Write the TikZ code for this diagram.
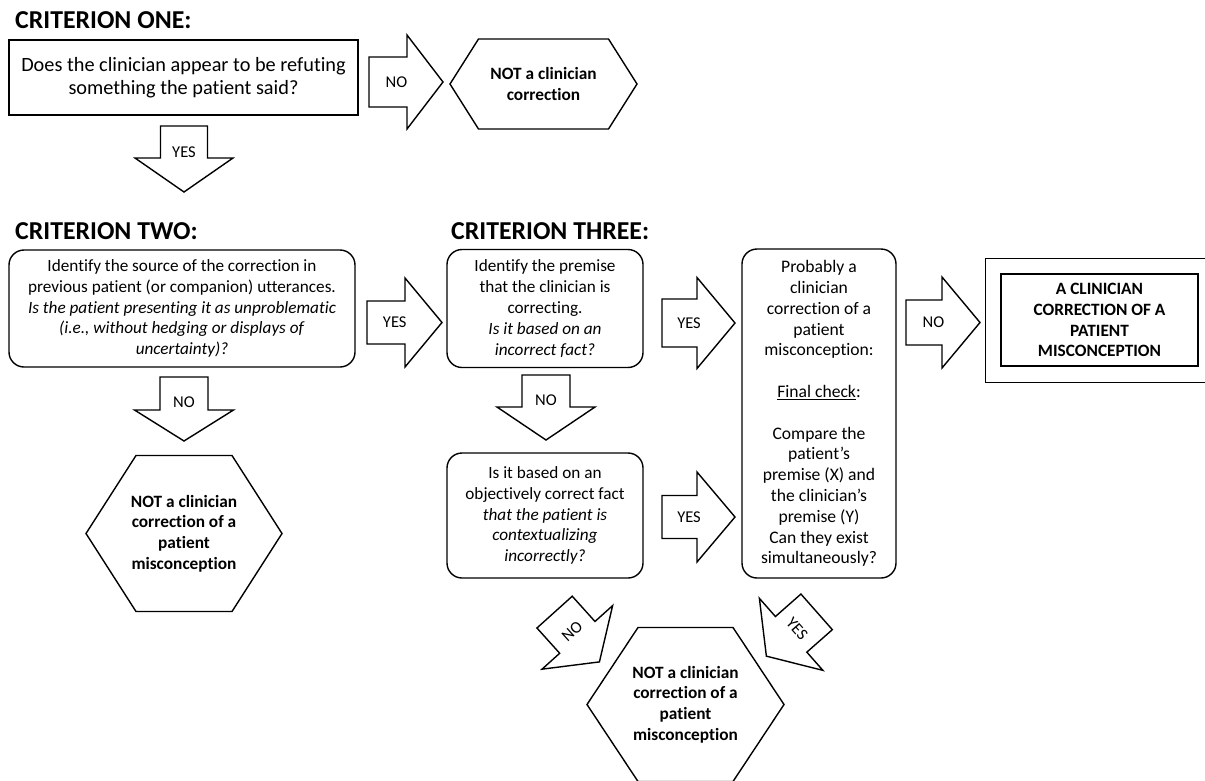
\documentclass[tikz,border=0pt]{standalone}
\usepackage{fontspec}
\setmainfont{Carlito}[Ligatures={NoCommon}]
\usetikzlibrary{calc}
\tikzset{
  lw/.style={line width=1.4pt},
  heading/.style={anchor=base west, inner sep=0pt, font=\fontsize{25.8}{30}\selectfont\bfseries},
  boxtext/.style={align=center, inner sep=0pt, font=\fontsize{17.2}{20.8}\selectfont},
  sqbox/.style={boxtext, draw, lw},
  rbox/.style={boxtext, draw, lw, rounded corners=15pt},
  endtext/.style={align=center, inner sep=0pt, font=\fontsize{17.3}{20.8}\selectfont\bfseries},
  arrowline/.style={draw=black, lw, fill=white, line join=miter},
  arrowlabel/.style={font=\fontsize{16.5}{19}\selectfont, inner sep=0pt, transform shape},
  pics/rarrow/.style n args={5}{code={
    \draw[arrowline] (-#1/2,-#2/2) -- (#1/2-#4,-#2/2) -- (#1/2-#4,-#3/2) -- (#1/2,0)
      -- (#1/2-#4,#3/2) -- (#1/2-#4,#2/2) -- (-#1/2,#2/2) -- cycle;
    \node[arrowlabel] at (-#1/2+0.37*#1,0) {#5};
  }},
  pics/darrow/.style n args={5}{code={
    \draw[arrowline] (-#2/2,-#1/2) -- (#2/2,-#1/2) -- (#2/2,#1/2-#4) -- (#3/2,#1/2-#4)
      -- (0,#1/2) -- (-#3/2,#1/2-#4) -- (-#2/2,#1/2-#4) -- cycle;
    \node[arrowlabel] at (0,-#1/2+0.39*#1) {#5};
  }},
  pics/hexa/.style n args={3}{code={
    \draw[lw, line join=miter] (-#1,0) -- (-#2,-#3) -- (#2,-#3) -- (#1,0) -- (#2,#3) -- (-#2,#3) -- cycle;
  }},
}
\begin{document}
\begin{tikzpicture}[x=1pt, y=-1pt]
\useasboundingbox (0,0) rectangle (1205,780);

% headings
\node[heading] (t1) at (15,28) {CRITERION ONE:};
\node[heading] (t2) at (15,239) {CRITERION TWO:};
\node[heading] (t3) at (451,239) {CRITERION THREE:};

% criterion one
\node[sqbox, minimum width=349pt, minimum height=75pt, font=\fontsize{20.3}{22.5}\selectfont] (q1) at (183.5,77.5)
  {Does the clinician appear to be refuting\\something the patient said?};
\node[endtext] (h1) at (543.5,84) {NOT a clinician\\correction};
\pic at (h1.center) {hexa={93.5}{65}{45}};
\pic at (406,82) {rarrow={74}{50}{94}{36}{NO}};
\pic at (184,159) {darrow={66}{47}{98}{34}{YES}};

% criterion two
\node[rbox, minimum width=346pt, minimum height=117pt] (q2) at (182,308.5)
  {Identify the source of the correction in\\previous patient (or companion) utterances.\\
   \textit{Is the patient presenting it as unproblematic}\\
   \textit{(i.e., without hedging or displays of}\\\textit{uncertainty)?}};
\node[endtext] (h2) at (184,533.5) {NOT a clinician\\correction of a\\patient\\misconception};
\pic at (h2.center) {hexa={98}{48}{78}};
\pic at (546,407.5) {darrow={65}{48}{98}{33}{NO}};
\pic at (184,409) {darrow={64}{48}{99}{31}{NO}};
\pic at (404.5,322.5) {rarrow={75}{43}{89}{37}{YES}};

% criterion three
\node[rbox, minimum width=196pt, minimum height=118pt] (q3a) at (545,308.5)
  {Identify the premise\\that the clinician is\\correcting.\\\textit{Is it based on an}\\\textit{incorrect fact?}};
\node[rbox, minimum width=196pt, minimum height=125pt] (q3b) at (545,515.5)
  {Is it based on an\\objectively correct fact\\\textit{that the patient is}\\\textit{contextualizing}\\\textit{incorrectly?}};
\node[rbox, minimum width=154pt, minimum height=329pt, font=\fontsize{17.6}{20.8}\selectfont] (fc) at (819,413.5)
  {Probably a\\clinician\\correction of a\\patient\\misconception:\\[20.8pt]
   \underline{Final check}:\\[20.8pt]
   Compare the\\patient’s\\premise (X) and\\the clinician’s\\premise (Y)\\Can they exist\\simultaneously?};
\pic at (698.5,323) {rarrow={73}{48}{91}{38}{YES}};
\pic at (698.5,517) {rarrow={73}{43}{90}{38}{YES}};
\pic at (943,322.5) {rarrow={74}{45}{91}{38}{NO}};

% final result
\node[endtext, draw, lw, minimum width=197pt, minimum height=92pt] (fin) at (1099.5,320)
  {A CLINICIAN\\CORRECTION OF A\\PATIENT\\MISCONCEPTION};
\draw[lw] ($(fin.north west)+(-15,-15)$) rectangle ($(fin.south east)+(15,16)$);

% bottom
\node[endtext] (h3) at (685.5,704.5) {NOT a clinician\\correction of a\\patient\\misconception};
\pic at (h3.center) {hexa={98.5}{47.5}{77}};
\pic[rotate=42] at (577,637) {darrow={67}{47.5}{95}{33}{NO}};
\pic[rotate=-48.6] at (791.5,634) {darrow={67}{47.5}{96}{33}{YES}};
\end{tikzpicture}
\end{document}
